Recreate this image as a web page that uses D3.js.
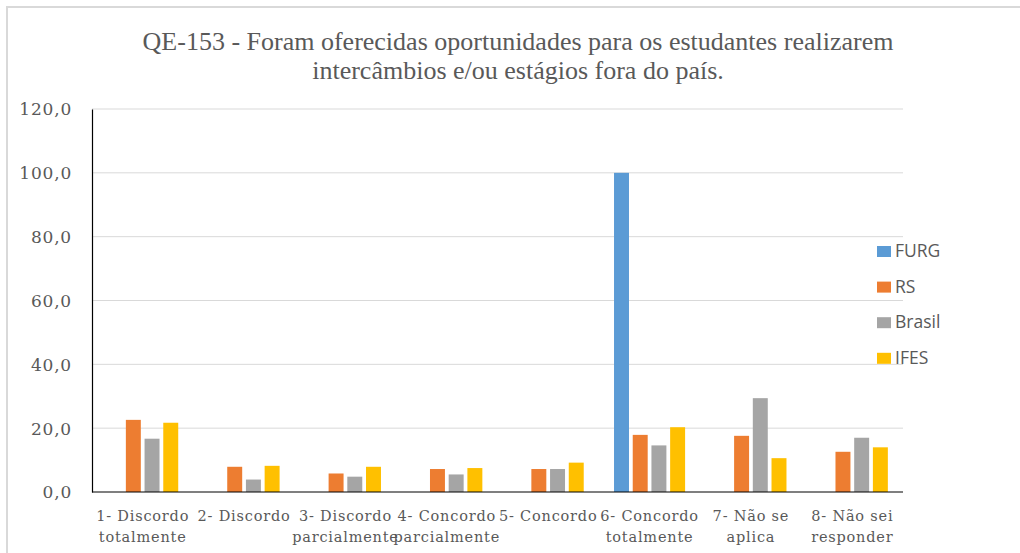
<!DOCTYPE html>
<html>
<head>
<meta charset="utf-8">
<script src="https://cdn.jsdelivr.net/npm/d3@7"></script>
<style>
  body { margin: 0; background: #fff; }
  svg { display: block; }
</style>
</head>
<body>
<svg id="chart" width="1020" height="553"></svg>
<script>
// categories and series values (percent)
var categories = [
    ["1- Discordo", "totalmente"],
    ["2- Discordo"],
    ["3- Discordo", "parcialmente"],
    ["4- Concordo", "parcialmente"],
    ["5- Concordo"],
    ["6- Concordo", "totalmente"],
    ["7- Não se", "aplica"],
    ["8- Não sei", "responder"]
];
var seriesNames = ["FURG", "RS", "Brasil", "IFES"];
var seriesColors = ["#5b9bd5", "#ed7d31", "#a5a5a5", "#ffc000"];

var furg   = [0, 0, 0, 0, 0, 100.0, 0, 0];
var rs     = [22.6, 7.9, 5.8, 7.2, 7.2, 17.9, 17.6, 12.6];
var brasil = [16.7, 3.9, 4.8, 5.5, 7.2, 14.6, 29.4, 17.0];
var ifes   = [21.7, 8.2, 7.9, 7.5, 9.2, 20.3, 10.6, 14.0];

var yTicks = [0, 20, 40, 60, 80, 100, 120];

var allValues = [furg, rs, brasil, ifes];

var svg = d3.select("#chart");

// frame
svg.append("path")
    .attr("d", "M7,553 L7,7 L1020,7")
    .attr("fill", "none")
    .attr("stroke", "#d9d9d9")
    .attr("stroke-width", 2);

var margin = {top: 109, left: 92, right: 903, bottom: 492};

var x0 = d3.scaleBand()
    .domain(d3.range(categories.length))
    .range([margin.left, margin.right]);

var x1 = d3.scaleBand()
    .domain(seriesNames)
    .range([0, x0.bandwidth()])
    .paddingInner(0.2)
    .paddingOuter(0.81);

var y = d3.scaleLinear()
    .domain([0, 120])
    .range([margin.bottom, margin.top]);

// gridlines
svg.append("g")
    .selectAll("line")
    .data(yTicks.slice(1))
    .enter().append("line")
    .attr("x1", margin.left)
    .attr("x2", margin.right)
    .attr("y1", function(d) { return y(d); })
    .attr("y2", function(d) { return y(d); })
    .attr("stroke", "#d9d9d9")
    .attr("stroke-width", 1);

// y axis
var yAxis = d3.axisLeft(y)
    .tickValues(yTicks)
    .tickSize(0)
    .tickPadding(20)
    .tickFormat(function(d) { return d3.format(".1f")(d).replace(".", ","); });

var yAxisGroup = svg.append("g")
    .attr("transform", "translate(" + margin.left + ",0)")
    .call(yAxis);
yAxisGroup.select(".domain")
    .attr("stroke", "#000")
    .attr("stroke-width", 1.2);
yAxisGroup.selectAll("text")
    .attr("font-family", "'DejaVu Serif', serif")
    .attr("font-size", 17)
    .attr("letter-spacing", 0.8)
    .attr("fill", "#595959")
    .attr("dy", "0.35em");

// bars
var groups = svg.append("g")
    .selectAll("g")
    .data(categories)
    .enter().append("g")
    .attr("transform", function(d, i) { return "translate(" + x0(i) + ",0)"; });

groups.selectAll("rect")
    .data(function(d, i) {
        return seriesNames.map(function(name, s) {
            return {name: name, value: allValues[s][i], color: seriesColors[s]};
        });
    })
    .enter().append("rect")
    .filter(function(d) { return d.value > 0; })
    .attr("x", function(d) { return x1(d.name); })
    .attr("width", x1.bandwidth())
    .attr("y", function(d) { return y(d.value); })
    .attr("height", function(d) { return y(0) - y(d.value); })
    .attr("fill", function(d) { return d.color; });

// x axis line
svg.append("line")
    .attr("x1", margin.left)
    .attr("x2", margin.right)
    .attr("y1", y(0))
    .attr("y2", y(0))
    .attr("stroke", "#000")
    .attr("stroke-width", 1.2);

// category labels
var catLabels = svg.append("g")
    .selectAll("text")
    .data(categories)
    .enter().append("text")
    .attr("text-anchor", "middle")
    .attr("font-family", "'DejaVu Serif', serif")
    .attr("font-size", 14.5)
    .attr("letter-spacing", 0.8)
    .attr("fill", "#595959")
    .attr("x", function(d, i) { return x0(i) + x0.bandwidth() / 2; })
    .attr("y", 521);

catLabels.selectAll("tspan")
    .data(function(d) { return d; })
    .enter().append("tspan")
    .attr("x", function() { return d3.select(this.parentNode).attr("x"); })
    .attr("dy", function(d, i) { return i === 0 ? 0 : 21; })
    .text(function(d) { return d; });

// legend
var legend = svg.append("g")
    .selectAll("g")
    .data(seriesNames)
    .enter().append("g")
    .attr("transform", function(d, i) { return "translate(877," + (246 + i * 35.6) + ")"; });

legend.append("rect")
    .attr("width", 14)
    .attr("height", 11)
    .attr("fill", function(d, i) { return seriesColors[i]; });

legend.append("text")
    .attr("x", 18)
    .attr("y", 11)
    .attr("font-family", "'Open Sans', sans-serif")
    .attr("font-size", 17.5)
    .attr("fill", "#595959")
    .text(function(d) { return d; });

// title
var title = svg.append("text")
    .attr("text-anchor", "middle")
    .attr("font-family", "'Liberation Serif', serif")
    .attr("font-size", 26)
    .attr("fill", "#595959")
    .attr("x", 518)
    .attr("y", 50);

title.append("tspan")
    .attr("x", 518)
    .text("QE-153 - Foram oferecidas oportunidades para os estudantes realizarem");
title.append("tspan")
    .attr("x", 518)
    .attr("dy", 29)
    .text("intercâmbios e/ou estágios fora do país.");
</script>
</body>
</html>
